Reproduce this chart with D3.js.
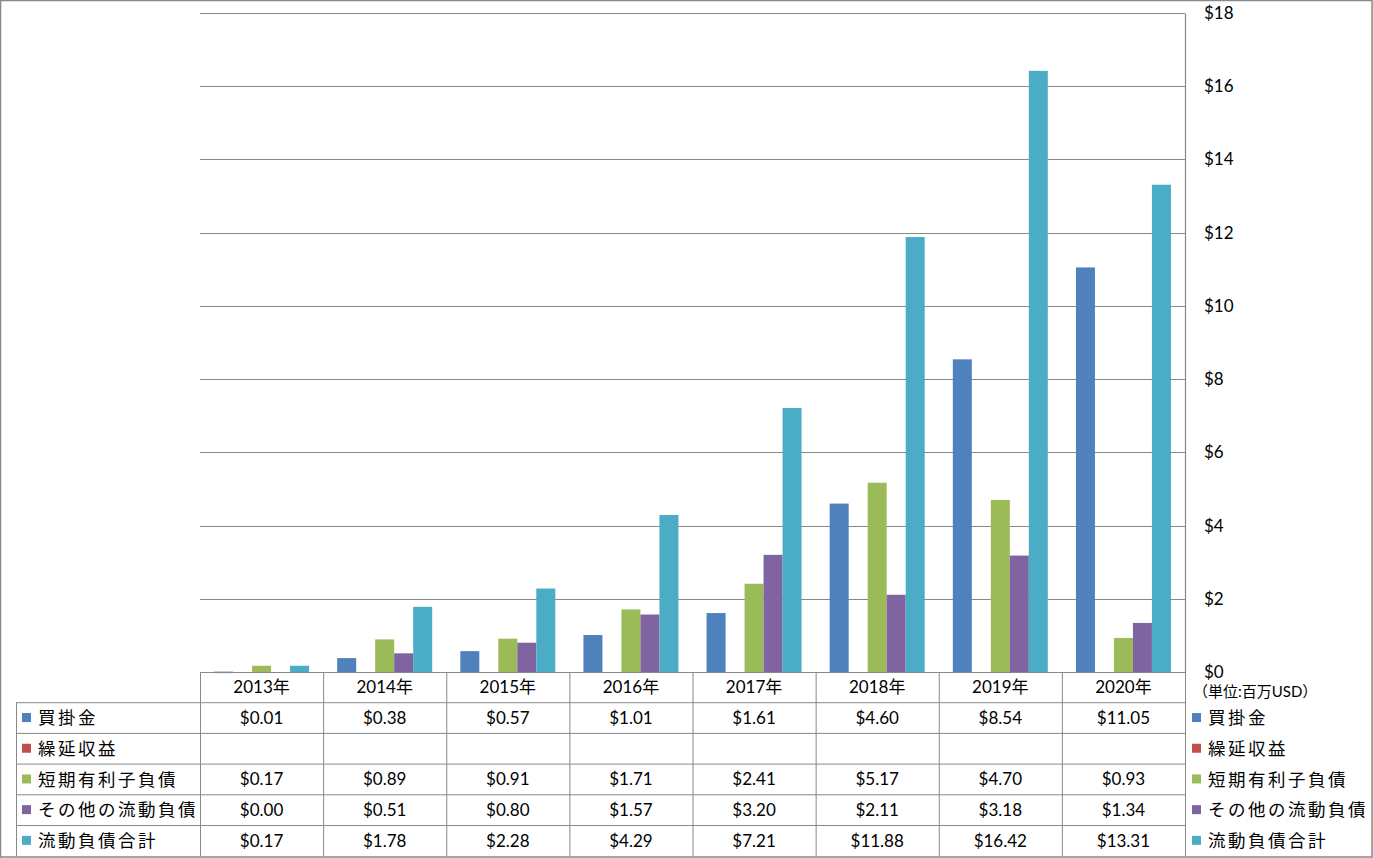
<!DOCTYPE html>
<html lang="ja">
<head>
    <meta charset="utf-8">
    <script src="https://d3js.org/d3.v7.min.js"></script>
</head>
<style>
    body { margin: 0; background: #fff; }
    text { font-family: Lato, "Noto Sans CJK JP", sans-serif; fill: #000; }
</style>
<body>
<script>
    const w = 1373
    const h = 858

    // data
    const years = ["2013年", "2014年", "2015年", "2016年", "2017年", "2018年", "2019年", "2020年"]
    const seriesNames = ["買掛金", "繰延収益", "短期有利子負債", "その他の流動負債", "流動負債合計"]
    const seriesColors = ["#4F81BD", "#C0504D", "#9BBB59", "#8064A2", "#4BACC6"]
    const accountsPayable = [0.01, 0.38, 0.57, 1.01, 1.61, 4.60, 8.54, 11.05]
    const deferredRevenue = [null, null, null, null, null, null, null, null]
    const shortTermDebt = [0.17, 0.89, 0.91, 1.71, 2.41, 5.17, 4.70, 0.93]
    const otherCurrent = [0.00, 0.51, 0.80, 1.57, 3.20, 2.11, 3.18, 1.34]
    const totalCurrent = [0.17, 1.78, 2.28, 4.29, 7.21, 11.88, 16.42, 13.31]
    const yTicks = [0, 2, 4, 6, 8, 10, 12, 14, 16, 18]
    const unitLabel = "（単位:百万USD）"

    const seriesValues = [accountsPayable, deferredRevenue, shortTermDebt, otherCurrent, totalCurrent]

    // layout
    const plotLeft = 200, plotRight = 1185, plotTop = 13, plotBottom = 672
    const rowH = 30.7
    const tableLeft = 16
    const gridColor = "#888"

    let svg = d3.select("body").append("svg")
        .attr("width", w)
        .attr("height", h)

    // outer frame
    svg.append("rect")
        .attr("x", 0.5).attr("y", 0.5)
        .attr("width", w - 1.5).attr("height", h - 1.5)
        .attr("fill", "none").attr("stroke", gridColor).attr("stroke-width", 1.5)

    let x0 = d3.scaleBand().domain(years).range([plotLeft, plotRight])
    let x1 = d3.scaleBand().domain(seriesNames).range([0, x0.bandwidth()]).paddingOuter(0.74)
    let y = d3.scaleLinear().domain([0, 18]).range([plotBottom, plotTop])

    // gridlines
    svg.append("g").selectAll("line")
        .data(yTicks)
        .enter().append("line")
        .attr("x1", plotLeft).attr("x2", plotRight)
        .attr("y1", d => Math.round(y(d)) + 0.5).attr("y2", d => Math.round(y(d)) + 0.5)
        .attr("stroke", gridColor).attr("stroke-width", 1)

    // right axis
    let yaxis = d3.axisRight(y).tickValues(yTicks).tickSize(0).tickPadding(19).tickFormat(d => "$" + d)
    let ax = svg.append("g")
        .attr("transform", "translate(" + plotRight + ",0)")
        .call(yaxis)
    ax.select(".domain").attr("stroke", gridColor).attr("stroke-width", 1.2)
    ax.selectAll("text").attr("font-size", 17).attr("font-family", "Lato, 'Noto Sans CJK JP', sans-serif")

    // bars
    seriesNames.forEach((s, i) => {
        svg.append("g").selectAll("rect")
            .data(seriesValues[i].map((v, j) => ({ year: years[j], v: v })).filter(d => d.v !== null))
            .enter().append("rect")
            .attr("x", d => x0(d.year) + x1(s))
            .attr("width", x1.bandwidth())
            .attr("y", d => y(d.v))
            .attr("height", d => Math.max(y(0) - y(d.v), d.v > 0 ? 1.5 : 0))
            .attr("fill", seriesColors[i])
    })

    // data table
    let table = svg.append("g")
    let tableBottom = plotBottom + rowH * 6
    // header row
    table.append("line")
        .attr("x1", plotLeft).attr("x2", plotRight)
        .attr("y1", plotBottom + 0.5).attr("y2", plotBottom + 0.5)
        .attr("stroke", gridColor)
    // row lines
    d3.range(1, 6).forEach(r => {
        table.append("line")
            .attr("x1", tableLeft).attr("x2", plotRight)
            .attr("y1", plotBottom + rowH * r).attr("y2", plotBottom + rowH * r)
            .attr("stroke", gridColor)
    })
    // vertical lines
    table.append("line")
        .attr("x1", tableLeft + 0.5).attr("x2", tableLeft + 0.5)
        .attr("y1", plotBottom + rowH).attr("y2", tableBottom)
        .attr("stroke", gridColor)
    years.concat(["end"]).forEach((yr, j) => {
        let xx = yr === "end" ? plotRight : x0(yr)
        table.append("line")
            .attr("x1", xx + 0.5).attr("x2", xx + 0.5)
            .attr("y1", plotBottom).attr("y2", tableBottom)
            .attr("stroke", gridColor)
    })

    // year labels
    table.selectAll("text.year")
        .data(years)
        .enter().append("text")
        .attr("class", "year")
        .attr("x", d => x0(d) + x0.bandwidth() / 2)
        .attr("y", plotBottom + rowH / 2)
        .attr("dy", "0.35em")
        .attr("text-anchor", "middle")
        .attr("font-size", 17)
        .text(d => d)

    // row labels, values, and legend on the right
    seriesNames.forEach((s, i) => {
        let cy = plotBottom + rowH * (i + 1) + rowH / 2
        table.append("rect")
            .attr("x", tableLeft + 6).attr("y", cy - 5)
            .attr("width", 9).attr("height", 9)
            .attr("fill", seriesColors[i])
        table.append("text")
            .attr("x", tableLeft + 22).attr("y", cy)
            .attr("dy", "0.35em")
            .attr("font-size", 17.5)
            .attr("letter-spacing", 2.5)
            .text(s)

        table.selectAll("text.v" + i)
            .data(seriesValues[i].map((v, j) => ({ year: years[j], v: v })).filter(d => d.v !== null))
            .enter().append("text")
            .attr("x", d => x0(d.year) + x0.bandwidth() / 2)
            .attr("y", cy)
            .attr("dy", "0.35em")
            .attr("text-anchor", "middle")
            .attr("font-size", 17)
            .text(d => "$" + d.v.toFixed(2))

        table.append("rect")
            .attr("x", plotRight + 7).attr("y", cy - 5)
            .attr("width", 9).attr("height", 9)
            .attr("fill", seriesColors[i])
        table.append("text")
            .attr("x", plotRight + 23).attr("y", cy)
            .attr("dy", "0.35em")
            .attr("font-size", 17.5)
            .attr("letter-spacing", 2.5)
            .text(s)
    })

    svg.append("text")
        .attr("x", plotRight + 8).attr("y", plotBottom + 20)
        .attr("dy", "0.35em")
        .attr("font-size", 15)
        .text(unitLabel)
</script>
</body>
</html>
